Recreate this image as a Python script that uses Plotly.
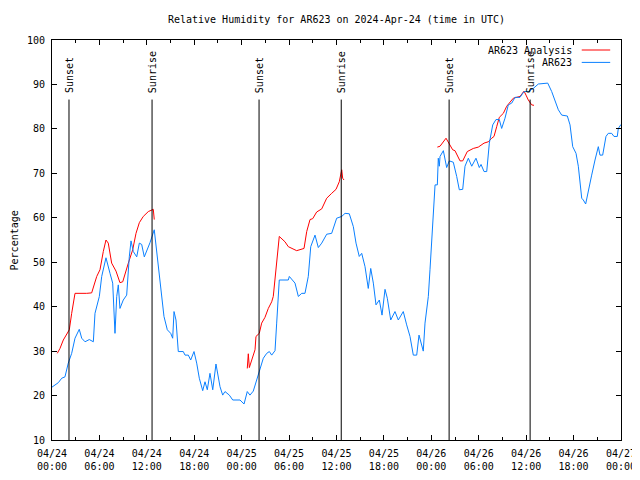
import pandas as pd
import plotly.graph_objects as go

BASE = pd.Timestamp("2024-04-24 00:00")

# AR623 observations: hours since 2024-04-24 00:00 UTC, relative humidity (%)
obs_hours = [0.0, 0.80, 1.23, 1.64, 2.06, 2.49, 2.91, 3.45, 3.76, 4.18, 4.72, 5.23, 5.44, 5.99, 6.29, 6.83,
             7.34, 7.68, 7.97, 8.19, 8.39, 8.60, 9.02, 9.45, 9.78, 10.0, 10.29, 10.72, 11.05, 11.35, 11.68,
             11.98, 12.40, 12.94, 13.32, 13.76, 14.17, 14.59, 15.02, 15.27, 15.44, 15.69, 15.98, 16.61,
             16.83, 17.25, 17.55, 17.97, 18.31, 18.64, 19.07, 19.36, 19.65, 19.99, 20.34, 20.75, 21.26,
             21.60, 21.89, 22.44, 22.87, 23.79, 24.30, 24.71, 25.05, 25.47, 25.90, 26.32, 26.74, 27.17,
             27.50, 27.80, 28.22, 28.43, 28.76, 29.90, 30.03, 30.75, 31.17, 31.60, 32.01, 32.43, 32.74,
             33.28, 33.70, 34.13, 34.76, 35.39, 36.02, 36.66, 37.08, 37.62, 38.13, 38.47, 38.88, 39.19,
             39.61, 40.02, 40.33, 40.66, 41.00, 41.42, 41.76, 42.14, 42.43, 42.86, 43.40, 43.82, 44.45,
             44.88, 45.30, 45.72, 46.15, 46.44, 46.78, 46.98, 47.20, 47.62, 47.83, 48.17, 48.47, 48.76,
             48.88, 49.01, 49.10, 49.52, 49.94, 50.27, 50.78, 51.21, 51.54, 51.97, 52.26, 52.68, 53.11,
             53.65, 54.07, 54.29, 54.67, 55.01, 55.34, 55.77, 56.18, 56.60, 56.90, 57.32, 57.74, 58.17,
             58.59, 59.22, 59.73, 60.27, 60.90, 61.54, 62.73, 63.23, 63.65, 64.07, 64.50, 65.21, 65.55,
             65.89, 66.31, 66.60, 67.03, 67.23, 67.53, 67.86, 68.29, 68.71, 69.13, 69.34, 69.68, 70.10,
             70.39, 70.82, 71.11, 71.53, 71.66, 72.0]
obs_rh = [21.9, 22.9, 23.9, 24.2, 27.3, 29.5, 32.9, 34.9, 32.9, 32.1, 32.6, 32.1, 38.5, 42.3, 46.8, 51.0,
          47.5, 45.3, 34.0, 42.3, 44.9, 39.6, 41.5, 42.6, 51.2, 54.8, 52.4, 51.2, 54.3, 54.0, 51.2,
          52.4, 54.4, 57.3, 51.2, 43.8, 37.8, 34.8, 34.0, 32.9, 38.9, 37.0, 29.9, 29.9,
          29.1, 29.1, 28.0, 29.9, 27.3, 23.9, 21.1, 23.1, 21.3, 25.0, 21.3, 27.1, 22.0,
          20.1, 20.9, 20.1, 19.0, 19.0, 18.1, 20.9, 20.1, 21.0, 23.5, 25.4, 28.4, 29.5,
          29.9, 29.1, 30.1, 36.3, 46.0, 46.0, 46.8, 45.3, 42.3, 43.0, 43.0, 46.8, 53.5,
          56.1, 53.3, 54.3, 56.3, 56.5, 59.9, 60.3, 61.0, 60.9, 58.0, 54.3, 51.3, 52.0,
          49.0, 44.1, 48.6, 45.3, 40.4, 41.5, 38.1, 43.9, 41.9, 37.0, 38.9, 37.0, 38.9,
          35.9, 33.3, 29.1, 29.1, 33.6, 31.4, 30.0, 36.3, 42.3, 48.3, 57.3, 67.4, 67.4,
          73.4, 71.6, 73.8, 75.1, 71.3, 72.8, 72.5, 69.3, 66.3, 66.4, 71.6, 73.4, 71.6,
          73.4, 71.3, 72.0, 70.4, 70.4, 76.8, 80.9, 82.1, 82.1, 80.1, 82.4, 85.4, 85.8,
          87.1, 87.1, 88.4, 88.4, 89.1, 90.1, 90.3, 88.4, 86.5, 84.3, 83.1, 82.9, 80.9,
          76.0, 74.5, 71.6, 64.4, 64.0, 63.1, 66.3, 69.6, 73.0, 76.0, 74.1, 74.1, 78.3,
          79.0, 79.0, 78.3, 78.3, 80.1, 81.0]

# AR623 Analysis (three separate runs)
ana1_hours = [0.67, 1.01, 1.43, 1.86, 2.19, 2.49, 2.91, 4.39, 5.02, 5.66, 6.07, 6.49, 6.83, 7.12, 7.55,
              8.10, 8.60, 8.95, 9.36, 9.66, 10.21, 10.63, 11.05, 11.55, 12.19, 12.82, 12.94]
ana1_rh = [29.5, 30.6, 32.5, 34.0, 34.8, 38.5, 43.0, 43.0, 43.1, 46.8, 48.3, 52.4, 55.0, 54.3, 49.8,
           48.0, 45.4, 45.6, 48.3, 49.8, 52.8, 56.5, 58.9, 60.3, 61.4, 61.9, 59.6]
ana2_hours = [24.71, 24.84, 24.97, 25.27, 25.69, 25.81, 26.23, 26.53, 26.95, 27.37, 27.80, 28.00, 28.22,
              28.51, 28.76, 29.48, 29.90, 30.96, 31.89, 32.23, 32.65, 32.99, 33.49, 34.13, 34.76,
              35.39, 35.94, 36.35, 36.66, 36.78, 36.95]
ana2_rh = [26.1, 29.4, 26.3, 28.0, 30.3, 33.3, 34.0, 36.3, 37.6, 39.6, 41.1, 42.3, 46.0,
           51.3, 55.8, 54.6, 53.5, 52.6, 53.1, 56.9, 59.6, 59.8, 61.3, 62.0, 64.4,
           65.5, 66.4, 68.1, 70.8, 68.9, 68.5]
ana3_hours = [48.76, 49.10, 49.86, 50.36, 50.70, 50.99, 51.63, 51.97, 52.55, 53.31, 53.94, 54.67, 55.21,
              55.64, 55.93, 56.27, 56.60, 57.11, 57.54, 57.86, 58.37, 59.22, 59.73, 59.98, 60.27,
              60.70, 60.99]
ana3_rh = [75.9, 76.1, 77.9, 76.5, 75.3, 75.1, 72.8, 72.8, 74.9, 75.6, 75.9, 76.8, 77.1,
           77.9, 78.3, 80.5, 82.6, 83.5, 85.1, 85.8, 86.9, 87.3, 88.5, 87.6, 86.5,
           85.4, 85.3]

# Sun events (hours since base)
event_hours = [2.15, 12.66, 26.2, 36.6, 50.25, 60.5]
event_labels = ["Sunset", "Sunrise", "Sunset", "Sunrise", "Sunset", "Sunrise"]

y_ticks = list(range(10, 101, 10))

FONT = "DejaVu Sans Mono"
FS = 10

# page body has an 8px margin, so the figure is drawn slightly smaller and offset
W, H = 632, 464


def to_time(hours):
    return [None if h is None else BASE + pd.Timedelta(hours=h) for h in hours]


ana_hours = ana1_hours + [None] + ana2_hours + [None] + ana3_hours
ana_rh = ana1_rh + [None] + ana2_rh + [None] + ana3_rh

fig = go.Figure()
fig.add_trace(go.Scatter(x=to_time(ana_hours), y=ana_rh, mode="lines", name="AR623 Analysis",
                         line=dict(color="#ff0000", width=1), connectgaps=False))
fig.add_trace(go.Scatter(x=to_time(obs_hours), y=obs_rh, mode="lines", name="AR623",
                         line=dict(color="#0a80ff", width=1)))

for h, lab in zip(event_hours, event_labels):
    t = BASE + pd.Timedelta(hours=h)
    fig.add_shape(type="line", xref="x", yref="y", x0=t, x1=t, y0=10, y1=86.6,
                  line=dict(color="black", width=1))
    fig.add_annotation(x=t, y=87.6, xref="x", yref="y", text=lab, textangle=-90,
                       showarrow=False, xanchor="center", yanchor="bottom",
                       font=dict(family=FONT, size=FS, color="black"))

# manual legend (text right, sample line on the right like the original)
legend_items = [("AR623 Analysis", "#ff0000", 0.975), ("AR623", "#0a80ff", 0.944)]
for name, col, yp in legend_items:
    fig.add_annotation(x=0.918, y=yp, xref="paper", yref="paper", text=name, showarrow=False,
                       xanchor="right", yanchor="middle", font=dict(family=FONT, size=FS, color="black"))
    fig.add_shape(type="line", xref="paper", yref="paper", x0=0.931, x1=0.981, y0=yp, y1=yp,
                  line=dict(color=col, width=1))

# y-axis title placed close to the left edge, as in the original
fig.add_annotation(x=-0.066, y=0.5, xref="paper", yref="paper", text="Percentage", textangle=-90,
                   showarrow=False, xanchor="center", yanchor="middle",
                   font=dict(family=FONT, size=FS, color="black"))

fig.update_layout(
    width=W, height=H,
    margin=dict(l=44, r=19, t=32, b=32),
    paper_bgcolor="white", plot_bgcolor="white",
    showlegend=False,
    font=dict(family=FONT, size=FS, color="black"),
    title=dict(text="Relative Humidity for AR623 on 2024-Apr-24 (time in UTC)",
               x=0.5, xref="paper", y=1 - 11 / H, yref="container", yanchor="middle",
               font=dict(family=FONT, size=FS, color="black")),
)
fig.update_xaxes(
    range=[BASE, BASE + pd.Timedelta(hours=72)],
    type="date", dtick=6 * 3600 * 1000, tick0=BASE,
    tickformat="%m/%d<br>%H:%M", ticklabeloverflow="allow",
    ticks="inside", ticklen=5, tickcolor="black", ticklabelstandoff=4,
    minor=dict(dtick=3 * 3600 * 1000, ticks="inside", ticklen=3, tickcolor="black"),
    showline=True, linecolor="black", linewidth=1, mirror="ticks",
    showgrid=False, zeroline=False, automargin=False,
    tickfont=dict(family=FONT, size=FS, color="black"),
)
fig.update_yaxes(
    range=[10, 100], tickvals=y_ticks,
    ticks="inside", ticklen=5, tickcolor="black", ticklabelstandoff=4,
    showline=True, linecolor="black", linewidth=1, mirror="ticks",
    showgrid=False, zeroline=False, automargin=False,
    tickfont=dict(family=FONT, size=FS, color="black"),
)

fig.write_html("out.html")
